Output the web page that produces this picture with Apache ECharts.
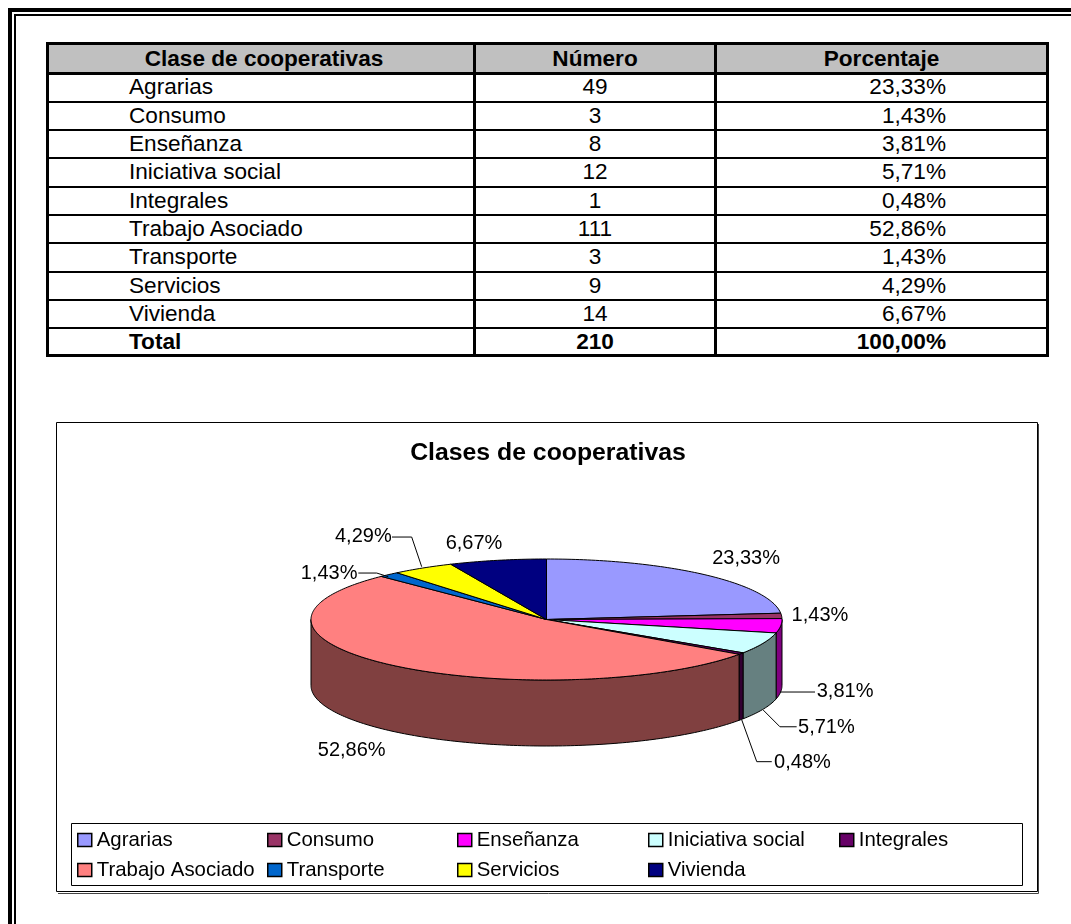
<!DOCTYPE html>
<html><head><meta charset="utf-8">
<script src="https://cdn.jsdelivr.net/npm/echarts@6/dist/echarts.min.js"></script>
<style>
html,body{margin:0;padding:0;background:#fff;width:1071px;height:924px;overflow:hidden;font-family:"Liberation Sans",Arial,sans-serif;}
.abs{position:absolute;box-sizing:border-box;}
.cell{position:absolute;height:28px;line-height:28px;font-size:22.6px;color:#000;white-space:nowrap;}
</style></head><body>
<div class="abs" style="left:8px;top:8px;width:1200px;height:1000px;border-left:4px solid #000;border-top:4px solid #000;"></div>
<div class="abs" style="left:14px;top:14px;width:1200px;height:1000px;border-left:2px solid #000;border-top:2px solid #000;"></div>
<div id="tbl"></div>
<div id="chart" class="abs" style="left:56px;top:422px;width:984px;height:472px;"></div>
<script>
// ---------- data ----------
const headers = ['Clase de cooperativas', 'Número', 'Porcentaje'];
const categories = ['Agrarias', 'Consumo', 'Enseñanza', 'Iniciativa social', 'Integrales',
  'Trabajo Asociado', 'Transporte', 'Servicios', 'Vivienda'];
const counts = [49, 3, 8, 12, 1, 111, 3, 9, 14];
const percents = ['23,33%', '1,43%', '3,81%', '5,71%', '0,48%', '52,86%', '1,43%', '4,29%', '6,67%'];
const totalRow = ['Total', '210', '100,00%'];
const chartTitle = 'Clases de cooperativas';
const colors = ['#9999FF', '#993366', '#FF00FF', '#CCFFFF', '#660066', '#FF8080', '#0066CC', '#FFFF00', '#000080'];

// ---------- table (layout) ----------
const FONT = '"Liberation Sans", Arial, sans-serif';
const tbl = document.getElementById('tbl');
function box(l, t, w, h, bg, extra) {
  const d = document.createElement('div');
  d.className = 'abs';
  d.style.cssText = `left:${l}px;top:${t}px;width:${w}px;height:${h}px;` + (bg ? `background:${bg};` : '') + (extra || '');
  tbl.appendChild(d);
  return d;
}
function cell(text, l, w, cy, align, bold) {
  const d = document.createElement('div');
  d.className = 'cell';
  d.style.cssText += `left:${l}px;width:${w}px;top:${cy - 14}px;text-align:${align};font-weight:${bold ? 'bold' : 'normal'};`;
  d.textContent = text;
  tbl.appendChild(d);
}
const headBottom = 73.3, rowH = 28.33;
box(49, 45, 997, 28, '#C0C0C0');
box(46, 42, 1003, 315, null, 'border:3px solid #000;');
box(46, 72, 1003, 3, '#000');
for (let k = 1; k <= 9; k++) {
  const c = headBottom + rowH * k;
  box(46, Math.round(c - 1), 1003, 2, '#000');
}
box(473, 42, 3, 315, '#000');
box(714, 42, 3, 315, '#000');
cell(headers[0], 52, 424, 58.5, 'center', true);
cell(headers[1], 476, 238, 58.5, 'center', true);
cell(headers[2], 717, 329, 58.5, 'center', true);
categories.forEach((c, k) => {
  const cy = headBottom + rowH * (k + 0.5);
  cell(c, 129, 340, cy, 'left', false);
  cell(String(counts[k]), 476, 238, cy, 'center', false);
  cell(percents[k], 717, 229, cy, 'right', false);
});
{
  const cy = headBottom + rowH * 9.5;
  cell(totalRow[0], 129, 340, cy, 'left', true);
  cell(totalRow[1], 476, 238, cy, 'center', true);
  cell(totalRow[2], 717, 229, cy, 'right', true);
}

// ---------- chart ----------
const PIE = { cx: 490.5, cy: 197.5, rx: 235.5, ry: 60.5, depth: 66 };
const labelLayout = [
  { anchor: 'top', dx: 42, dy: -16.5, align: 'center' },
  { anchor: 'top', dx: 10, dy: 0, align: 'left' },
  { anchor: 'bottom', dx: 36, dy: 0, align: 'left', leader: [[-0.7, 0.2], [34.3, 0.2]] },
  { anchor: 'bottom', dx: 35, dy: 18.5, align: 'left', leader: [[0.2, 0.8], [16.9, 17.5], [33.6, 17.5]] },
  { anchor: 'bottom', dx: 33, dy: 43, align: 'left', leader: [[0.7, 0.4], [15.7, 42.1], [30.7, 42.1]] },
  { anchor: 'bottom', dx: -42.5, dy: 18.4, align: 'center' },
  { anchor: 'top', dx: -31.5, dy: -1.2, align: 'right', leader: [[-0.6, 2.2], [-12.2, -1.5], [-30.6, -1.5]] },
  { anchor: 'top', dx: -31, dy: -31.3, align: 'right', leader: [[-1, -1.3], [-11, -31], [-30.7, -31]] },
  { anchor: 'top', dx: -23.5, dy: -17, align: 'center' }
];
const legendCols = [21, 211, 401, 592, 783];

const total = counts.reduce((a, b) => a + b, 0);
const starts = [], ends = [];
{
  let acc = 0;
  counts.forEach(v => { starts.push(acc / total * 2 * Math.PI); acc += v; ends.push(acc / total * 2 * Math.PI); });
}
function shade(hex) {
  const n = parseInt(hex.slice(1), 16);
  const r = (n >> 16) & 255, g = (n >> 8) & 255, b = n & 255;
  return `rgb(${Math.round(r / 2)},${Math.round(g / 2)},${Math.round(b / 2)})`;
}
function pt(t, dy) {
  return [PIE.cx + PIE.rx * Math.sin(t), PIE.cy - PIE.ry * Math.cos(t) + (dy || 0)];
}
function arcPts(a0, a1, dy) {
  const n = Math.max(2, Math.ceil((a1 - a0) / (Math.PI / 180)));
  const pts = [];
  for (let k = 0; k <= n; k++) pts.push(pt(a0 + (a1 - a0) * k / n, dy));
  return pts;
}

const series = categories.map((name, i) => ({
  type: 'custom',
  name: name,
  coordinateSystem: 'none',
  data: [[counts[i]]],
  itemStyle: { color: colors[i] },
  silent: true,
  animation: false,
  renderItem: function (params, api) {
    const a0 = starts[i], a1 = ends[i];
    const children = [];
    const s = Math.max(a0, Math.PI / 2), e = Math.min(a1, 3 * Math.PI / 2);
    if (e > s) {
      children.push({
        type: 'polygon',
        shape: { points: arcPts(s, e, 0).concat(arcPts(s, e, PIE.depth).reverse()) },
        style: { fill: shade(colors[i]), stroke: '#000', lineWidth: 1, lineJoin: 'round' }
      });
    }
    children.push({
      type: 'polygon',
      shape: { points: [[PIE.cx, PIE.cy]].concat(arcPts(a0, a1, 0)) },
      style: { fill: colors[i], stroke: '#000', lineWidth: 1, lineJoin: 'round' }
    });
    const L = labelLayout[i];
    const mid = (a0 + a1) / 2;
    const anc = pt(mid, L.anchor === 'bottom' ? PIE.depth : 0);
    if (L.leader) {
      children.push({
        type: 'polyline',
        shape: { points: L.leader.map(p => [anc[0] + p[0], anc[1] + p[1]]) },
        style: { stroke: '#000', lineWidth: 1, fill: null }
      });
    }
    children.push({
      type: 'text',
      x: anc[0] + L.dx,
      y: anc[1] + L.dy,
      style: {
        text: percents[i], fill: '#000', fontSize: 20, fontFamily: FONT,
        align: L.align, verticalAlign: 'middle'
      }
    });
    return { type: 'group', children: children };
  }
}));

const legends = legendCols.map((left, c) => ({
  orient: 'vertical',
  left: left,
  top: 408,
  padding: 0,
  itemGap: 10,
  itemWidth: 14,
  itemHeight: 13,
  icon: 'rect',
  selectedMode: false,
  itemStyle: { borderColor: '#000', borderWidth: 1.5 },
  textStyle: { fontSize: 20.4, fontFamily: FONT, color: '#000', lineHeight: 20 },
  data: [categories[c], categories[c + 5]].filter(Boolean)
}));

const chart = echarts.init(document.getElementById('chart'), null, { renderer: 'canvas' });
chart.setOption({
  animation: false,
  backgroundColor: 'transparent',
  title: {
    text: chartTitle,
    left: 'center',
    top: 19,
    padding: 0,
    textStyle: { fontSize: 24.8, fontWeight: 'bold', fontFamily: FONT, color: '#000' }
  },
  legend: legends,
  graphic: [
    { type: 'rect', shape: { x: 0.5, y: 0.5, width: 981, height: 469 }, style: { fill: null, stroke: '#000', lineWidth: 1 }, silent: true },
    { type: 'polyline', shape: { points: [[982.5, 2], [982.5, 471.5], [2, 471.5]] }, style: { fill: null, stroke: '#444', lineWidth: 1 }, silent: true },
    { type: 'rect', shape: { x: 15.5, y: 401.5, width: 951, height: 62 }, style: { fill: null, stroke: '#000', lineWidth: 1 }, silent: true }
  ],
  series: series
});
</script>
</body></html>
